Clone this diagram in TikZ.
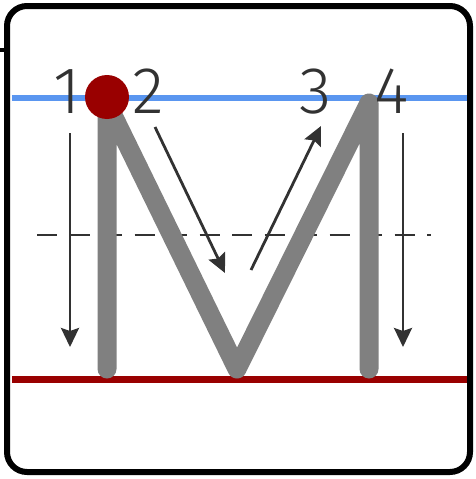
\documentclass[tikz,border=0pt]{standalone}
\usepackage{fontspec}
\newfontfamily\numfont{Fira Sans Light}
\usetikzlibrary{arrows.meta}
\definecolor{guideblue}{RGB}{90,150,240}
\definecolor{darkred}{RGB}{153,0,0}
\definecolor{strokegray}{RGB}{128,128,128}
\definecolor{inkgray}{RGB}{50,50,50}
\tikzset{
  numlabel/.style={anchor=base, inner sep=0pt, text=inkgray, font=\numfont\fontsize{66}{66}\selectfont},
  hintarrow/.style={draw=inkgray, line width=2.8pt, -{Stealth[length=19pt,width=18pt,inset=3pt]}},
  guide/.style={line width=5.5pt},
}
\begin{document}
\begin{tikzpicture}[x=1pt,y=-1pt]
\useasboundingbox (0,0) rectangle (475,479);
% guide lines
\draw[guide, guideblue] (12,98) -- (470,98);
\draw[guide, darkred, line width=7pt] (12,379) -- (470,379);
\draw[inkgray, line width=2pt, dash pattern=on 20pt off 12.5pt] (37,235) -- (431,235);
% letter M
\draw[strokegray, line width=19pt, line cap=round, line join=round]
  (107,369) -- (107,103) -- (237,369) -- (369,103) -- (369,369);
\fill[darkred] (107,97) circle (22);
% numbers
\node[numlabel] (n1) at (67,113) {1};
\node[numlabel] (n2) at (148,113) {2};
\node[numlabel] (n3) at (316,113) {3};
\node[numlabel] (n4) at (392,113) {4};
% arrows
\coordinate (a1s) at (70,133); \coordinate (a1e) at (70,347);
\coordinate (a2s) at (155,127); \coordinate (a2e) at (225,273);
\coordinate (a3s) at (251,270); \coordinate (a3e) at (321,126);
\coordinate (a4s) at (403,133); \coordinate (a4e) at (403,347);
\draw[hintarrow] (a1s) -- (a1e);
\draw[hintarrow] (a2s) -- (a2e);
\draw[hintarrow] (a3s) -- (a3e);
\draw[hintarrow] (a4s) -- (a4e);
% frame
\draw[black, line width=4pt] (0,50) -- (7,50);
\draw[black, line width=6pt, rounded corners=20pt] (7,6) rectangle (470,472);
\end{tikzpicture}
\end{document}
